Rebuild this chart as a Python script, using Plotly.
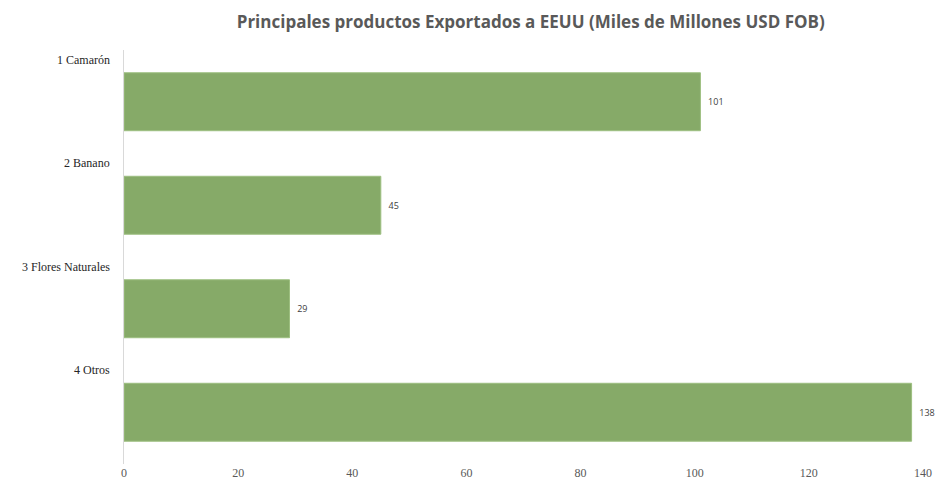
import plotly.graph_objects as go

categories = ["1 Camarón", "2 Banano", "3 Flores Naturales", "4 Otros"]
values = [101, 45, 29, 138]
tick_vals = [0, 20, 40, 60, 80, 100, 120, 140]

fig = go.Figure()
fig.add_trace(go.Bar(
    y=categories, x=values, orientation="h",
    marker=dict(color="#86AA68", line=dict(color="#9DBF80", width=1)),
    texttemplate="  %{x}", textposition="outside",
    textfont=dict(family="Open Sans, Liberation Sans, sans-serif", size=9, color="#404040"),
    cliponaxis=False,
))

for c in categories:
    fig.add_annotation(
        x=0, y=c, xref="x", yref="y", text=c, showarrow=False,
        xanchor="right", yanchor="middle", xshift=-12, yshift=42,
        font=dict(family="Liberation Serif, Times New Roman, serif", size=12, color="#262626"),
    )

fig.update_layout(
    width=936, height=495,
    margin=dict(l=124, r=13, t=50, b=31, autoexpand=False),
    paper_bgcolor="white", plot_bgcolor="white",
    bargap=0.44,
    showlegend=False,
    title=dict(
        text="<b>Principales productos Exportados a EEUU (Miles de Millones USD FOB)</b>",
        x=0.567, xanchor="center", y=0.9556, yanchor="middle",
        font=dict(family="Open Sans, Liberation Sans, sans-serif", size=17, color="#595959"),
    ),
    xaxis=dict(
        range=[0, 140], tickvals=tick_vals, showgrid=False, zeroline=False,
        showline=False, ticks="",
        tickfont=dict(family="Liberation Serif, Times New Roman, serif", size=12, color="#595959"),
    ),
    yaxis=dict(
        categoryorder="array", categoryarray=categories[::-1],
        showticklabels=False, showgrid=False, zeroline=False,
        showline=True, linecolor="#D9D9D9", linewidth=1, ticks="",
    ),
)

fig.write_html(
    "out.html",
    config={"displayModeBar": False},
    post_script="document.body.style.margin='0px';document.body.style.overflow='hidden';",
)
